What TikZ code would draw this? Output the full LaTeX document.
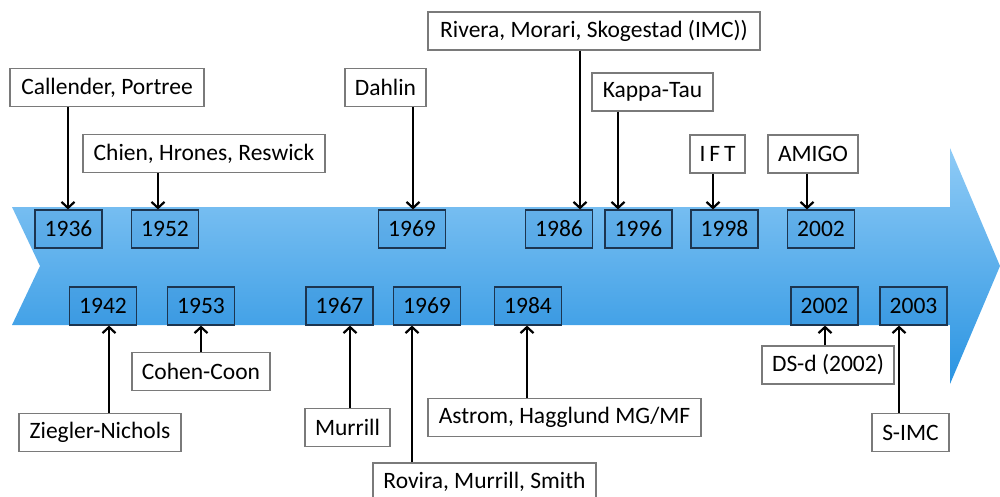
\documentclass[tikz,border=0pt]{standalone}
\usepackage{fontspec}
\setmainfont{Carlito}
\usetikzlibrary{arrows.meta}
\definecolor{bandtop}{HTML}{8FCBF6}
\definecolor{bandbot}{HTML}{2A94E2}
\definecolor{yearfill}{HTML}{1E7FD0}
\definecolor{yearline}{HTML}{1C3550}
\definecolor{labline}{HTML}{7A7A7A}
\begin{document}
\begin{tikzpicture}[x=1pt,y=-1pt,
  every node/.style={font=\fontsize{23.5}{28}\selectfont, inner sep=0pt},
  yearbox/.style={draw=yearline, line width=1.2pt, fill=yearfill, fill opacity=0.2,
    text opacity=1, draw opacity=1, minimum width=67pt, minimum height=38pt},
  labelbox/.style={draw=labline, line width=1.1pt, fill=white, minimum height=38pt},
  conn/.style={line width=2.4pt, -{Straight Barb[length=6pt,width=13pt,line width=2.2pt]}}
]
\useasboundingbox (0,0) rectangle (1000,497);

% timeline band with notched tail and arrow head
\shade[top color=bandtop, bottom color=bandbot]
  (12,207) -- (950,207) -- (950,148) -- (1000,266) -- (950,384)
  -- (950,325) -- (12,325) -- (40,266) -- cycle;

% years above the axis
\node[yearbox] (y1936) at (68.5,229) {1936};
\node[yearbox] (y1952) at (165,229) {1952};
\node[yearbox] (y1969a) at (412,229) {1969};
\node[yearbox] (y1986) at (559,229) {1986};
\node[yearbox] (y1996) at (638.5,229) {1996};
\node[yearbox] (y1998) at (724.5,229) {1998};
\node[yearbox] (y2002a) at (821,229) {2002};

% years below the axis
\node[yearbox] (y1942) at (103,306) {1942};
\node[yearbox] (y1953) at (201,306) {1953};
\node[yearbox] (y1967) at (339.5,306) {1967};
\node[yearbox] (y1969b) at (427,306) {1969};
\node[yearbox] (y1984) at (528,306) {1984};
\node[yearbox] (y2002b) at (824.5,306) {2002};
\node[yearbox] (y2003) at (913.5,306) {2003};

% method labels above
\node[labelbox, minimum width=194pt] (cp) at (107,87.5) {Callender, Portree};
\node[labelbox, minimum width=242pt] (chr) at (204,153.5) {Chien, Hrones, Reswick};
\node[labelbox, minimum width=81pt] (dah) at (385.5,87.5) {Dahlin};
\node[labelbox, minimum width=332pt] (rms) at (594,31) {Rivera, Morari, Skogestad (IMC))};
\node[labelbox, minimum width=121pt] (kt) at (652.5,92) {Kappa-Tau};
\node[labelbox, minimum width=55pt] (ift) at (717.5,154) {I\,F\,T};
\node[labelbox, minimum width=90pt] (amigo) at (813,154) {AMIGO};

% method labels below
\node[labelbox, minimum width=162pt] (zn) at (100,432.5) {Ziegler-Nichols};
\node[labelbox, minimum width=138pt] (cc) at (201,371.5) {Cohen-Coon};
\node[labelbox, minimum width=85pt] (mur) at (347.5,427.5) {Murrill};
\node[labelbox, minimum width=223pt] (rmsm) at (484.5,482) {Rovira, Murrill, Smith};
\node[labelbox, minimum width=273pt] (ahm) at (564.5,417.5) {Astrom, Hagglund MG/MF};
\node[labelbox, minimum width=132pt] (dsd) at (828,365) {DS-d (2002)};
\node[labelbox, minimum width=77pt] (simc) at (910.5,432.5) {S-IMC};

% connectors from labels to years
\draw[conn] (cp.south -| 68,0) -- (y1936.north -| 68,0);
\draw[conn] (chr.south -| 158,0) -- (y1952.north -| 158,0);
\draw[conn] (dah.south -| 413,0) -- (y1969a.north -| 413,0);
\draw[conn] (rms.south -| 580,0) -- (y1986.north -| 580,0);
\draw[conn] (kt.south -| 618,0) -- (y1996.north -| 618,0);
\draw[conn] (ift.south -| 713,0) -- (y1998.north -| 713,0);
\draw[conn] (amigo.south -| 807,0) -- (y2002a.north -| 807,0);

\draw[conn] (zn.north -| 109,0) -- (y1942.south -| 109,0);
\draw[conn] (cc.north -| 201,0) -- (y1953.south -| 201,0);
\draw[conn] (mur.north -| 350,0) -- (y1967.south -| 350,0);
\draw[conn] (rmsm.north -| 412,0) -- (y1969b.south -| 412,0);
\draw[conn] (ahm.north -| 527,0) -- (y1984.south -| 527,0);
\draw[conn] (dsd.north -| 825,0) -- (y2002b.south -| 825,0);
\draw[conn] (simc.north -| 899,0) -- (y2003.south -| 899,0);
\end{tikzpicture}
\end{document}
